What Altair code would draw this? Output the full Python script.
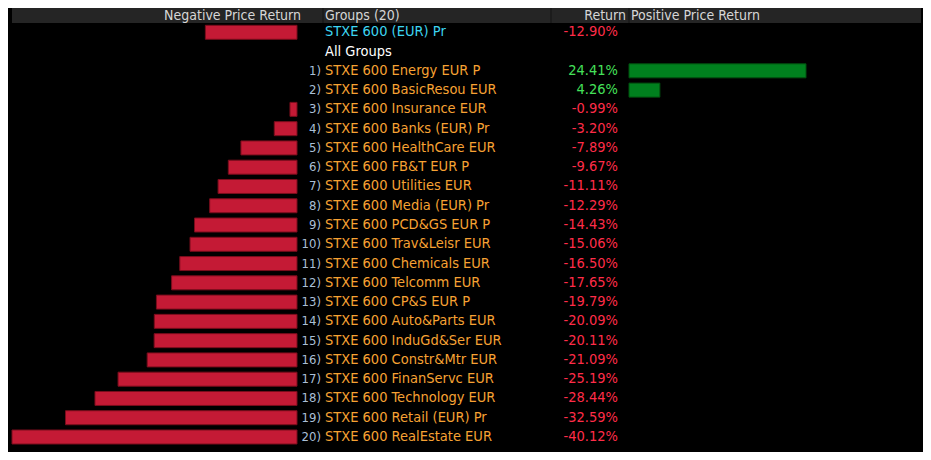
import altair as alt
import pandas as pd

# ---- data ----
index_name = "STXE 600 (EUR) Pr"
index_return = -12.90
group_header = "All Groups"
sector_names = [
    "STXE 600 Energy EUR P", "STXE 600 BasicResou EUR", "STXE 600 Insurance EUR",
    "STXE 600 Banks (EUR) Pr", "STXE 600 HealthCare EUR", "STXE 600 FB&T EUR P",
    "STXE 600 Utilities EUR", "STXE 600 Media (EUR) Pr", "STXE 600 PCD&GS EUR P",
    "STXE 600 Trav&Leisr EUR", "STXE 600 Chemicals EUR", "STXE 600 Telcomm EUR",
    "STXE 600 CP&S EUR P", "STXE 600 Auto&Parts EUR", "STXE 600 InduGd&Ser EUR",
    "STXE 600 Constr&Mtr EUR", "STXE 600 FinanServc EUR", "STXE 600 Technology EUR",
    "STXE 600 Retail (EUR) Pr", "STXE 600 RealEstate EUR",
]
sector_returns = [
    24.41, 4.26, -0.99, -3.20, -7.89, -9.67, -11.11, -12.29, -14.43, -15.06,
    -16.50, -17.65, -19.79, -20.09, -20.11, -21.09, -25.19, -28.44, -32.59, -40.12,
]
header_labels = ["Negative Price Return", "Groups (20)", "Return", "Positive Price Return"]

# ---- table ----
rows = [{"row": "idx", "rank": "", "name": index_name, "ret": index_return,
         "kind": "index", "has": True}]
rows.append({"row": "hdr", "rank": "", "name": group_header, "ret": 0.0,
             "kind": "group", "has": False})
for i, (n, r) in enumerate(zip(sector_names, sector_returns), start=1):
    rows.append({"row": f"r{i}", "rank": f"{i})", "name": n, "ret": r,
                 "kind": "sector", "has": True})
df = pd.DataFrame(rows)
df["label"] = df.apply(lambda d: f"{d['ret']:.2f}%" if d["has"] else "", axis=1)
row_order = list(df["row"])

FONT = "DejaVu Sans Condensed"
BG = "#000000"
RED_BAR = "#c41a35"
GREEN_BAR = "#00801e"

yscale = alt.Scale(domain=row_order, range=[24.3, 429], type="point", padding=0)
Y = alt.Y("row:N", scale=yscale, axis=None)

base = alt.Chart(df)
neg = df[(df["ret"] < 0) & df["has"]]
pos = df[(df["ret"] >= 0) & df["has"]]

neg_bars = alt.Chart(neg).mark_bar(height=14, color=RED_BAR, stroke="#7a0d1c",
                                   strokeWidth=1).encode(
    x=alt.X("ret:Q", scale=alt.Scale(domain=[min(sector_returns), 0], range=[4, 289]),
            axis=None),
    x2=alt.datum(0),
    y=Y,
)
pos_bars = alt.Chart(pos).mark_bar(height=14, color=GREEN_BAR, stroke="#00500f",
                                   strokeWidth=1).encode(
    x=alt.X("ret:Q", scale=alt.Scale(domain=[0, max(sector_returns)], range=[621, 798]),
            axis=None),
    x2=alt.datum(0),
    y=Y,
)

rank_text = base.mark_text(align="right", baseline="middle", font=FONT, fontSize=13,
                           color="#a9bfd6").encode(
    x=alt.value(313), y=Y, text="rank:N")

name_text = base.mark_text(align="left", baseline="middle", font=FONT, fontSize=14.5).encode(
    x=alt.value(317), y=Y, text="name:N",
    color=alt.Color("kind:N", scale=alt.Scale(domain=["index", "group", "sector"],
                                              range=["#3dd6f2", "#ffffff", "#f7a233"]),
                    legend=None))

ret_text = base.mark_text(align="right", baseline="middle", font=FONT, fontSize=14.5).encode(
    x=alt.value(610), y=Y, text="label:N",
    color=alt.condition("datum.ret >= 0", alt.value("#45e05a"), alt.value("#ff2c48")))

# header band
one = pd.DataFrame({"k": [0]})
band = alt.Chart(one).mark_rect(color="#252525").encode(
    x=alt.value(4), x2=alt.value(913), y=alt.value(0), y2=alt.value(15))
seps = alt.Chart(pd.DataFrame({"s": [315, 543, 621]})).mark_rule(
    color="#141414", strokeWidth=1).encode(
    x=alt.X("s:Q", scale=None), y=alt.value(0), y2=alt.value(15))

hdr_style = dict(baseline="middle", font=FONT, fontSize=14, color="#d6d6d6")
h1 = alt.Chart(one).mark_text(align="right", text=header_labels[0], **hdr_style).encode(
    x=alt.value(293), y=alt.value(7.5))
h2 = alt.Chart(one).mark_text(align="left", text=header_labels[1], **hdr_style).encode(
    x=alt.value(317), y=alt.value(7.5))
h3 = alt.Chart(one).mark_text(align="right", text=header_labels[2], **hdr_style).encode(
    x=alt.value(618), y=alt.value(7.5))
h4 = alt.Chart(one).mark_text(align="left", text=header_labels[3], **hdr_style).encode(
    x=alt.value(623), y=alt.value(7.5))

chart = alt.layer(
    band, seps, h1, h2, h3, h4, neg_bars, pos_bars, rank_text, name_text, ret_text
).resolve_scale(x="independent", color="independent").properties(
    width=915, height=444, background=BG, padding=0, autosize="none"
).configure_view(stroke=None)

chart.save("out.html", embed_options={"renderer": "svg", "actions": False})
